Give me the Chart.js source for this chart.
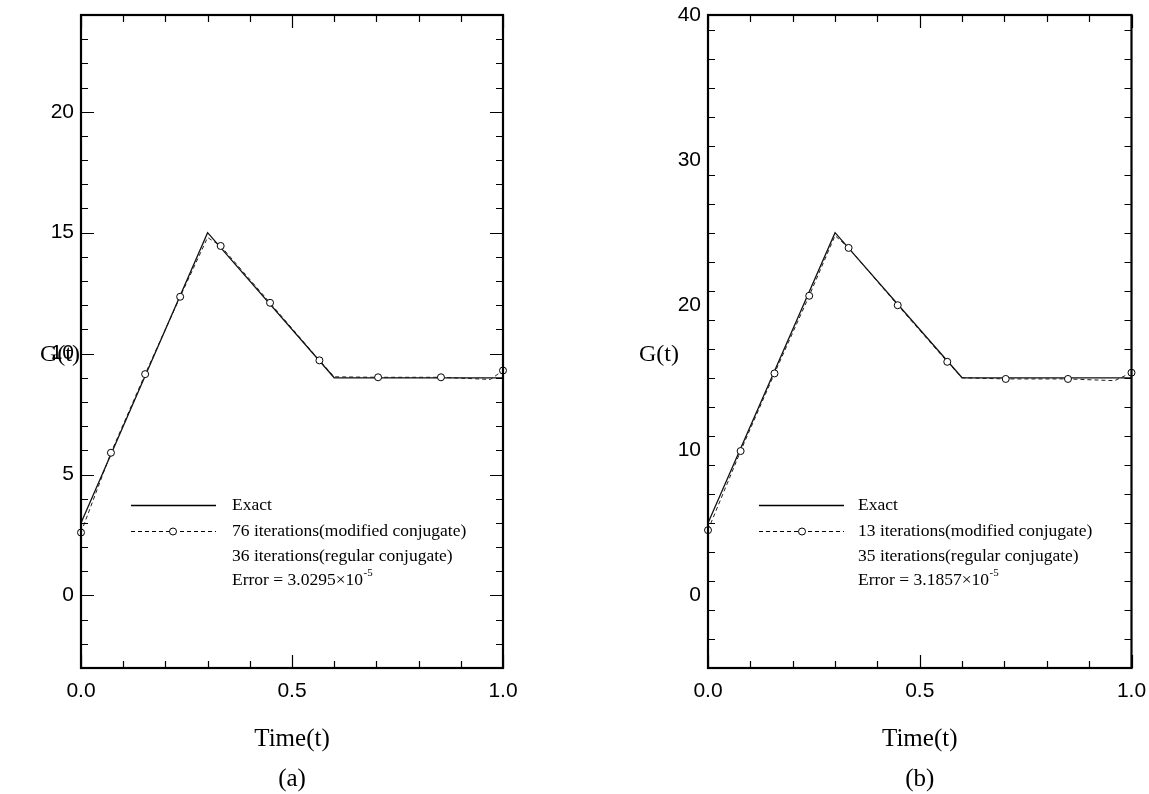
<!DOCTYPE html>
<html><head><meta charset="utf-8">
<script src="https://cdn.jsdelivr.net/npm/chart.js@4.4.1/dist/chart.umd.min.js"></script>
<style>
html,body{margin:0;padding:0;background:#fff;}
#wrap{position:relative;width:1149px;height:794px;overflow:hidden;}
.box{position:absolute;top:0;height:794px;}
#ba{left:0;width:574px;}
#bb{left:574px;width:575px;}
canvas{display:block;}
</style></head><body>
<div id="wrap">
  <div class="box" id="ba"><canvas id="ca" width="574" height="794"></canvas></div>
  <div class="box" id="bb"><canvas id="cb" width="575" height="794"></canvas></div>
</div>
<script>
// ---------- data ----------
const exactTime = [0, 0.3, 0.6, 1.0];
const exactA = [3, 15, 9, 9];
const exactB = [5, 25, 15, 15];

// estimated (markers) panel (a)
const markTimeA = [0, 0.071, 0.152, 0.235, 0.331, 0.448, 0.565, 0.704, 0.853, 1.0];
const markA     = [2.6, 5.9, 9.15, 12.35, 14.45, 12.1, 9.72, 9.02, 9.02, 9.3];
// extra points (a)
const bendTimeA = [0.3, 0.6, 0.97];
const bendA     = [14.8, 9.04, 8.93];

// estimated (markers) panel (b)
const markTimeB = [0, 0.077, 0.157, 0.239, 0.332, 0.448, 0.565, 0.703, 0.85, 1.0];
const markB     = [4.5, 9.95, 15.3, 20.65, 23.95, 20.0, 16.1, 14.92, 14.92, 15.35];
const bendTimeB = [0.3, 0.6, 0.96];
const bendB     = [24.8, 15.0, 14.8];

const xTickValues = [0, 0.5, 1.0];
const yTicksA = [0, 5, 10, 15, 20];
const yTicksB = [0, 10, 20, 30, 40];

const legendA = ['Exact', '76 iterations(modified conjugate)', '36 iterations(regular conjugate)', 'Error = 3.0295\u00d710'];
const legendB = ['Exact', '13 iterations(modified conjugate)', '35 iterations(regular conjugate)', 'Error = 3.1857\u00d710'];
const errExp = '-5';

// ---------- helpers ----------
function pts(xs, ys){ return xs.map((x,i)=>({x:x, y:ys[i]})); }
function merged(xs, ys, bx, by){
  const p = pts(xs, ys).concat(pts(bx, by));
  p.sort((a,b)=>a.x-b.x);
  return p;
}

const SANS = "'Liberation Sans', Arial, sans-serif";
const SERIF = "'Liberation Serif', 'Times New Roman', serif";

const framePlugin = {
  id: 'frameTicks',
  afterDatasetsDraw(chart, args, o) {
    const {ctx, chartArea: a} = chart;
    const xs = chart.scales.x, ys = chart.scales.y;
    ctx.save();
    ctx.strokeStyle = '#000';
    ctx.lineWidth = 1.2;
    for (let i = 0; i <= 10; i++) {
      const v = i / 10;
      const px = Math.round(xs.getPixelForValue(v)) + 0.5;
      const len = (i % 5 === 0) ? 13 : 7;
      ctx.beginPath();
      ctx.moveTo(px, a.bottom); ctx.lineTo(px, a.bottom - len);
      ctx.moveTo(px, a.top); ctx.lineTo(px, a.top + len);
      ctx.stroke();
    }
    for (let v = o.yMin; v <= o.yMax + 1e-9; v += o.yMinor) {
      const py = Math.round(ys.getPixelForValue(v)) + 0.5;
      const len = (Math.abs(v % o.yMajor) < 1e-9) ? 13 : 7;
      ctx.beginPath();
      ctx.moveTo(a.left, py); ctx.lineTo(a.left + len, py);
      ctx.moveTo(a.right, py); ctx.lineTo(a.right - len, py);
      ctx.stroke();
    }
    ctx.lineWidth = 2.2;
    ctx.strokeRect(a.left, a.top, a.right - a.left, a.bottom - a.top);
    ctx.restore();
  },
  afterDraw(chart, args, o) {
    const {ctx, chartArea: a} = chart;
    ctx.save();
    ctx.fillStyle = '#000';
    ctx.font = '24px ' + SERIF;
    ctx.textAlign = 'center';
    ctx.textBaseline = 'middle';
    ctx.fillText('G(t)', a.left - o.gOffset, a.top + 340);
    const rows = [490, 516, 541, 565];
    ctx.strokeStyle = '#000';
    ctx.lineWidth = 1.3;
    ctx.beginPath();
    ctx.moveTo(a.left + o.lx0, a.top + rows[0] + 0.5);
    ctx.lineTo(a.left + o.lx1, a.top + rows[0] + 0.5);
    ctx.stroke();
    ctx.lineWidth = 1;
    ctx.setLineDash([4, 3]);
    ctx.beginPath();
    ctx.moveTo(a.left + o.lx0, a.top + rows[1] + 0.5);
    ctx.lineTo(a.left + o.lx1, a.top + rows[1] + 0.5);
    ctx.stroke();
    ctx.setLineDash([]);
    ctx.beginPath();
    ctx.arc(a.left + o.lc, a.top + rows[1] + 0.5, 3.5, 0, Math.PI * 2);
    ctx.fillStyle = '#fff';
    ctx.fill();
    ctx.stroke();
    ctx.fillStyle = '#000';
    ctx.font = '17.5px ' + SERIF;
    ctx.textAlign = 'left';
    o.labels.forEach((t, i) => {
      ctx.fillText(t, a.left + o.tx, a.top + rows[i]);
    });
    const w = ctx.measureText(o.labels[3]).width;
    ctx.font = '11px ' + SERIF;
    ctx.fillText(errExp, a.left + o.tx + w + 0.5, a.top + rows[3] - 7);
    ctx.restore();
  }
};

function makeChart(id, cfg) {
  const datasets = [
    {
      data: pts(cfg.mt, cfg.mv),
      showLine: false,
      pointRadius: 3.5,
      pointHoverRadius: 3.5,
      pointBorderWidth: 1,
      pointBackgroundColor: '#fff',
      pointBorderColor: '#000',
      clip: false
    },
    {
      data: pts(exactTime, cfg.exact),
      showLine: true,
      borderColor: '#111',
      borderWidth: 1.3,
      pointRadius: 0,
      tension: 0,
      clip: false
    },
    {
      data: merged(cfg.mt, cfg.mv, cfg.bt, cfg.bv),
      showLine: true,
      borderColor: '#222',
      borderWidth: 1,
      borderDash: [4, 3],
      pointRadius: 0,
      tension: 0,
      clip: false
    }
  ];
  return new Chart(document.getElementById(id), {
    type: 'scatter',
    data: { datasets },
    options: {
      responsive: false,
      animation: false,
      events: [],
      layout: { padding: { left: 0, right: cfg.padRight, top: 15, bottom: 0 } },
      plugins: {
        legend: { display: false },
        tooltip: { enabled: false },
        title: { display: false },
        frameTicks: {
          yMin: cfg.yMin, yMax: cfg.yMax, yMinor: cfg.yMinor, yMajor: cfg.yMajor,
          gOffset: cfg.gOffset, lx0: cfg.lx0, lx1: cfg.lx1, lc: cfg.lc, tx: cfg.tx,
          labels: cfg.legend
        }
      },
      scales: {
        x: {
          type: 'linear', position: 'bottom', min: 0, max: 1,
          grid: { display: false, drawTicks: false },
          border: { display: false },
          afterBuildTicks: s => { s.ticks = xTickValues.map(v => ({ value: v })); },
          afterFit: s => { s.height = 126; s.paddingLeft = 0; s.paddingRight = 0; },
          ticks: {
            color: '#000', padding: 11, maxRotation: 0, autoSkip: false,
            font: { family: SANS, size: 21 },
            callback: v => Number(v).toFixed(1)
          },
          title: {
            display: true, text: ['Time(t)', '(' + cfg.tag + ')'], color: '#000',
            font: { family: SERIF, size: 25, lineHeight: 1.6 },
            padding: { top: 0, bottom: -5 }
          }
        },
        y: {
          type: 'linear', min: cfg.yMin, max: cfg.yMax,
          grid: { display: false, drawTicks: false },
          border: { display: false },
          afterBuildTicks: s => { s.ticks = cfg.yTicks.map(v => ({ value: v })); },
          afterFit: s => { s.width = cfg.yWidth; s.paddingTop = 0; s.paddingBottom = 0; },
          ticks: {
            color: '#000', padding: 7,
            font: { family: SANS, size: 21 },
            callback: v => String(v)
          }
        }
      }
    },
    plugins: [framePlugin]
  });
}

makeChart('ca', {
  mt: markTimeA, mv: markA, bt: bendTimeA, bv: bendA, exact: exactA,
  yMin: -3, yMax: 24, yMinor: 1, yMajor: 5, yTicks: yTicksA,
  yWidth: 81, padRight: 71, gOffset: 21, lx0: 50, lx1: 135, lc: 92, tx: 151,
  legend: legendA, tag: 'a'
});
makeChart('cb', {
  mt: markTimeB, mv: markB, bt: bendTimeB, bv: bendB, exact: exactB,
  yMin: -5, yMax: 40, yMinor: 2, yMajor: 10, yTicks: yTicksB,
  yWidth: 134, padRight: 17.5, gOffset: 49, lx0: 51, lx1: 136, lc: 94, tx: 150,
  legend: legendB, tag: 'b'
});
</script>
</body></html>
